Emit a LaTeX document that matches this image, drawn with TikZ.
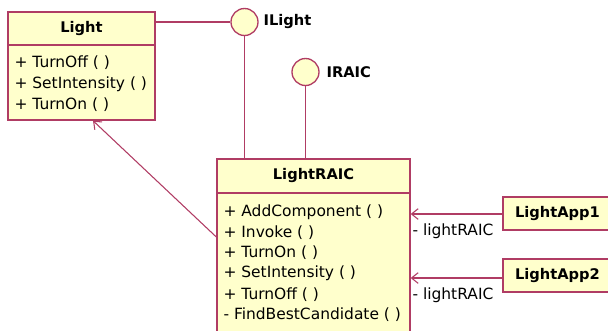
\documentclass[tikz,border=0pt]{standalone}
\usepackage{fontspec}
\setmainfont{DejaVu Sans}
\usetikzlibrary{arrows.meta,positioning,calc,fit}
\definecolor{umlred}{HTML}{B03C64}
\definecolor{umlfill}{HTML}{FFFFCC}
\tikzset{
  umlbox/.style={draw=umlred,fill=umlfill,inner sep=0pt,line width=1pt},
  iface/.style={circle,draw=umlred,fill=umlfill,minimum size=20.25pt,inner sep=0pt,line width=1pt},
  title/.style={font=\fontsize{11}{13}\selectfont\bfseries},
  op/.style={anchor=west,inner sep=0pt},
  link/.style={draw=umlred},
  dep/.style={draw=umlred,-{Straight Barb[length=5pt,width=8pt]}}
}

\begin{document}
\begin{tikzpicture}[x=0.75pt,y=-0.75pt,line width=0.8pt,every node/.style={font=\fontsize{11.6}{13}\selectfont}]
\useasboundingbox (0,0) rectangle (608,330);
\clip (0,0) rectangle (608,330);
% classes
\node[umlbox,fit={(8,12) (155,120)}] (light) {};
\node[title] (lightname) at (81.5,28.5) {Light};
\draw[link] (light.west |- 0,45) -- (light.east |- 0,45);
\foreach \txt [count=\i] in {{+ TurnOff ( )},{+ SetIntensity ( )},{+ TurnOn ( )}}
  \node[op] (lop\i) at (14,42+21*\i) {\txt};
\node[umlbox,fit={(217,159) (410,345)}] (raic) {};
\node[title] (raicname) at (313.5,176) {LightRAIC};
\draw[link] (raic.west |- 0,193) -- (raic.east |- 0,193);
\foreach \txt [count=\i] in {{+ AddComponent ( )},{+ Invoke ( )},{+ TurnOn ( )},{+ SetIntensity ( )},{+ TurnOff ( )},{- FindBestCandidate ( )}}
  \node[op] (rop\i) at (223,191.3+20.6*\i) {\txt};
\node[umlbox,title,minimum width=81.75pt,minimum height=24.75pt] (app1) at (557.5,213.5) {LightApp1};
\node[umlbox,title,minimum width=81.75pt,minimum height=24.75pt] (app2) at (557.5,275.5) {LightApp2};
% interfaces
\node[iface] (ilight) at (244.5,22) {};
\node[title,right=0pt of ilight] (ilightname) {ILight};
\node[iface] (iraic) at (305.5,72) {};
\node[title,right=1.5pt of iraic] (iraicname) {IRAIC};
\draw[link] (ilight.west -| light.east) -- (ilight.west);
\draw[link] (ilight.south) -- (ilight.south |- raic.north);
\draw[link] (iraic.south) -- (iraic.south |- raic.north);
% dependencies
\draw[dep] (raic.west |- 0,237) -- (light.south -| 93,0);
\draw[dep] (app1.west |- 0,214) -- (raic.east |- 0,214);
\draw[dep] (app2.west |- 0,278) -- (raic.east |- 0,278);
\node[op] (role1) at (412,231) {- lightRAIC};
\node[op] (role2) at (412,295) {- lightRAIC};
\end{tikzpicture}
\end{document}
